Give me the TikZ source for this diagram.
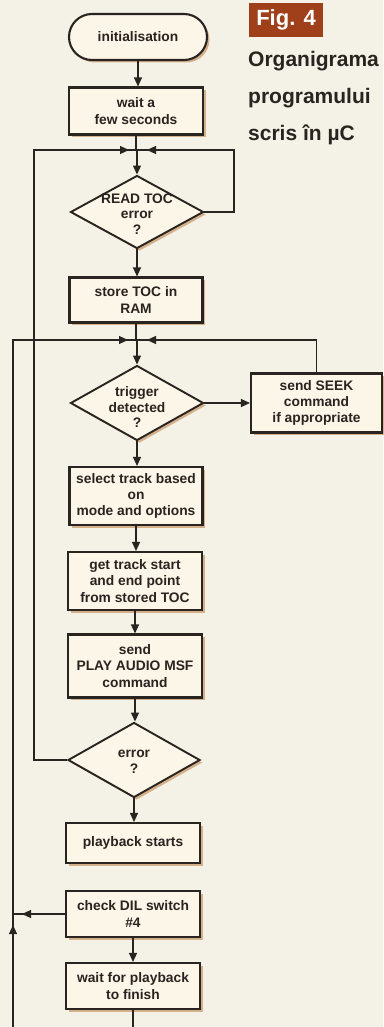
\documentclass[tikz,border=0pt]{standalone}
\usepackage{fontspec}
\setmainfont{Liberation Sans}
\usetikzlibrary{shapes.geometric,shadows,arrows.meta,decorations.markings,calc}
\definecolor{bgc}{HTML}{F4F1E6}
\definecolor{boxc}{HTML}{FBF6E8}
\definecolor{shc}{HTML}{CFA57A}
\definecolor{ink}{HTML}{2A2420}
\definecolor{rust}{HTML}{A0401A}
\begin{document}
\begin{tikzpicture}[x=1pt,y=-1pt,
  every node/.style={font=\bfseries\fontsize{13.8}{16.2}\selectfont, text=ink, align=center},
  sh/.style={drop shadow={shadow xshift=2.5pt,shadow yshift=-2.5pt,fill=shc,opacity=0.85}},
  box/.style={draw=ink, line width=2.1pt, fill=boxc, minimum width=134pt, inner sep=2pt, sh},
  dia/.style={diamond, draw=ink, line width=1.9pt, fill=boxc, minimum width=133pt, minimum height=75pt, inner sep=0pt, sh},
  dtext/.style={inner sep=0pt, font=\bfseries\fontsize{13.8}{15.6}\selectfont},
  conn/.style={draw=ink, line width=1.2pt},
  tip/.style={-{Triangle[length=9pt,width=8pt]}},
  mid/.style={postaction={decorate, decoration={markings, mark=at position #1 with {\arrow{Triangle[length=9pt,width=8pt]}}}}},
]
\fill[bgc] (0,0) rectangle (383,1027);
\useasboundingbox (0,0) rectangle (383,1027);

% title block
\node[fill=rust, text=white, font=\bfseries\fontsize{22}{22}\selectfont, minimum width=74pt, minimum height=34pt, inner sep=0pt] (fig) at (286,20) {Fig. 4};
\node[anchor=base west, font=\bfseries\fontsize{21}{21}\selectfont, inner sep=0pt] (t1) at (248,67) {Organigrama};
\node[anchor=base west, font=\bfseries\fontsize{21}{21}\selectfont, inner sep=0pt] (t2) at (248,104) {programului};
\node[anchor=base west, font=\bfseries\fontsize{21}{21}\selectfont, inner sep=0pt] (t3) at (248,141) {scris în µC};

% nodes
\node[box, rounded corners=23pt, minimum width=138pt, minimum height=46pt] (init) at (138,37) {initialisation};
\node[box, minimum height=47pt] (wait) at (136,111) {wait a\\few seconds};
\coordinate (j1) at (137,150);
\node[dia, minimum height=73pt] (rtoc) at (137,212) {};
\node[dtext] (rtoct) at (137,214) {READ TOC\\error\\?};
\node[box, minimum width=133pt, minimum height=45pt] (store) at (136,300) {store TOC in\\RAM};
\coordinate (j2) at (137,340);
\node[dia] (trig) at (137,403) {};
\node[dtext] (trigt) at (137,407) {trigger\\detected\\?};
\node[box, minimum width=131pt, minimum height=59pt] (seek) at (316.5,403) {send SEEK\\command\\if appropriate};
\node[box, minimum width=133pt, minimum height=58pt] (sel) at (136,496) {select track based\\on\\mode and options};
\node[box, minimum height=58pt] (get) at (135,581) {get track start\\and end point\\from stored TOC};
\node[box, minimum height=63pt] (play) at (135,666) {send\\PLAY AUDIO MSF\\command};
\node[dia, minimum width=132pt, minimum height=75pt] (err) at (134,760) {};
\node[dtext] (errt) at (134,762) {error\\?};
\node[box, minimum height=40pt] (pb) at (133,843) {playback starts};
\node[box, minimum height=46pt] (dil) at (133,914) {check DIL switch\\\#4};
\node[box, minimum height=46pt] (wpb) at (133,986) {wait for playback\\to finish};

\coordinate (bot) at (133,1027);
\coordinate (bl) at (13,1027);
\coordinate (c1) at (34,150);
\coordinate (c2) at (234,150);
\coordinate (c3) at (13,340);

% connectors
\draw[conn,tip] (init.south) -- (init.south |- wait.north);
\draw[conn] (wait.south) -- (wait.south |- j1);
\draw[conn,tip] (j1) -- (rtoc.north);
\draw[conn, mid=-8pt] (err.west) -| (c1) -- (j1);
\draw[conn, mid=-10pt] (rtoc.east) -| (c2) -- (j1);
\draw[conn,tip] (rtoc.south) -- (rtoc.south |- store.north);
\draw[conn] (store.south) -- (store.south |- j2);
\draw[conn,tip] (j2) -- (trig.north);
\draw[conn, mid=102pt, mid=-9pt] (bl) -- (c3) -- (j2);
\draw[conn, mid=-10pt] (seek.north) |- (j2);
\draw[conn,tip] (trig.east) -- (seek.west);
\draw[conn,tip] (trig.south) -- (trig.south |- sel.north);
\draw[conn,tip] (sel.south) -- (sel.south |- get.north);
\draw[conn,tip] (get.south) -- (get.south |- play.north);
\draw[conn,tip] (play.south) -- (play.south |- err.north);
\draw[conn,tip] (err.south) -- (err.south |- pb.north);
\draw[conn, mid=-9pt] (dil.west) -- (dil.west -| bl);
\draw[conn,tip] (dil.south) -- (dil.south |- wpb.north);
\draw[conn] (wpb.south) -- (bot);
\end{tikzpicture}
\end{document}
